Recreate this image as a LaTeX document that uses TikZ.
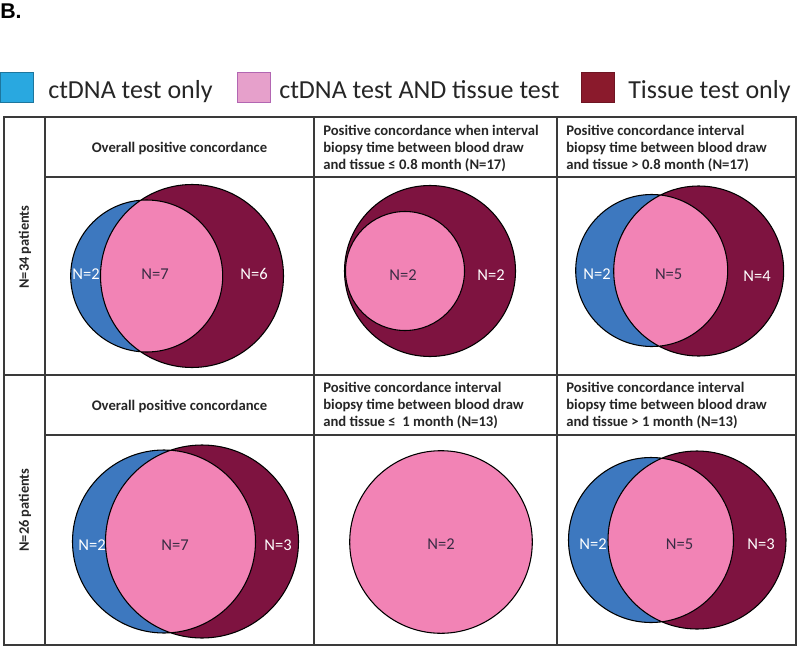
\documentclass[tikz,border=0pt]{standalone}
\usepackage{fontspec}
\setmainfont{Carlito}
\newfontfamily\labfont{Liberation Sans}
\usepackage{xcolor}
\usetikzlibrary{positioning}

\definecolor{legblue}{HTML}{29A8E0}
\definecolor{legpink}{HTML}{E6A0CB}
\definecolor{legmaroon}{HTML}{8A1A2C}
\definecolor{vblue}{HTML}{3D78BF}
\definecolor{vpink}{HTML}{F283B5}
\definecolor{vmaroon}{HTML}{7E1340}
\definecolor{ink}{HTML}{262626}
\definecolor{vink}{HTML}{3A2C44}
\definecolor{rule}{HTML}{3A3A3A}

\tikzset{
  gridline/.style={draw=rule, line width=1pt},
  ring/.style={draw=black, line width=0.8pt},
  head/.style={font=\fontsize{11}{12.75}\selectfont\bfseries, text=ink, inner sep=0pt, align=left},
  legbox/.style={minimum width=24.75pt, minimum height=22.5pt, inner sep=0pt, line width=0.6pt},
  legtext/.style={font=\fontsize{19.5}{22}\selectfont, text=ink, inner sep=0pt, anchor=base west},
  nlab/.style={font=\fontsize{12.4}{14}\selectfont, inner sep=0pt},
  rowlab/.style={font=\fontsize{10.8}{12}\selectfont\bfseries, text=ink, inner sep=0pt, rotate=90}
}

\begin{document}
\begin{tikzpicture}[x=0.75pt, y=-0.75pt]
    \useasboundingbox (0,0) rectangle (800,646);

    % panel letter
    \node[anchor=base west, inner sep=0pt, font=\labfont\fontsize{16}{18}\selectfont\bfseries] (panel) at (0,18) {B.};

    % legend
    \node[legbox, fill=legblue, draw=legblue!70!black] (kblue) at (16.5,87.7) {};
    \node[legbox, fill=legpink, draw=violet!60] (kpink) at (253.5,87.7) {};
    \node[legbox, fill=legmaroon, draw=legmaroon!80!black] (kmaroon) at (598,87.7) {};
    \node[legtext] (tblue) at (48,98.3) {ctDNA test only};
    \node[legtext] (tpink) at (279,98.3) {ctDNA test AND tissue test};
    \node[legtext] (tmaroon) at (628,98.3) {Tissue test only};

    % table
    \coordinate (A) at (4,117);
    \coordinate (B) at (796,645);
    \draw[gridline] (A) rectangle (B);
    \foreach \x in {45, 314, 557} {
        \draw[gridline] (\x,117) -- (\x,645);
    }
    \draw[gridline] (45,177) -- (796,177);
    \draw[gridline] (4,375) -- (796,375);
    \draw[gridline] (45,435) -- (796,435);

    % row labels
    \node[rowlab] (r1) at (25,247) {N=34 patients};
    \node[rowlab] (r2) at (25,510) {N=26 patients};

    % column headers
    \node[head] (h12) at (179.5,148) {Overall positive concordance};
    \node[head, anchor=west] (h13) at (323,148) {Positive concordance when interval\\biopsy time between blood draw\\and tissue ≤ 0.8 month (N=17)};
    \node[head, anchor=west] (h14) at (566,148) {Positive concordance interval\\biopsy time between blood draw\\and tissue > 0.8 month (N=17)};
    \node[head] (h22) at (179.5,406) {Overall positive concordance};
    \node[head, anchor=west] (h23) at (323,405) {Positive concordance interval\\biopsy time between blood draw\\and tissue ≤\ \ 1 month (N=13)};
    \node[head, anchor=west] (h24) at (566,405) {Positive concordance interval\\biopsy time between blood draw\\and tissue > 1 month (N=13)};

    % two-set venns: ctDNA circle, tissue circle
    \foreach \bx/\by/\br/\mx/\my/\mr in {
        146.7/276/76/192/276/91.5,
        651.7/270.5/76/698.7/271/85,
        164/541.5/91.5/202/541.5/96.5,
        651/540/82.5/697/540/89
    }{
        \fill[vblue] (\bx,\by) circle (\br);
        \fill[vmaroon] (\mx,\my) circle (\mr);
        \begin{scope}
            \clip (\bx,\by) circle (\br);
            \fill[vpink] (\mx,\my) circle (\mr);
        \end{scope}
        \draw[ring] (\bx,\by) circle (\br) (\mx,\my) circle (\mr);
    }

    % nested and single venns
    \draw[ring, fill=vmaroon] (430,271) circle (85.5);
    \draw[ring, fill=vpink] (405,271) circle (59.5);
    \draw[ring, fill=vpink] (441,542) circle (91.3);

    % counts
    \foreach \name/\x/\y/\col/\txt in {
        a1/86/274/white/N=2,
        a2/155/274/vink/N=7,
        a3/254/274/white/N=6,
        b1/403/275/vink/N=2,
        b2/491/275/white/N=2,
        c1/597/274/white/N=2,
        c2/668.7/274/vink/N=5,
        c3/757/276/white/N=4,
        d1/92/545/white/N=2,
        d2/175/545/vink/N=7,
        d3/278/545/white/N=3,
        e1/441/544/vink/N=2,
        f1/593/544/white/N=2,
        f2/679.5/544/vink/N=5,
        f3/761/544/white/N=3
    }{
        \node[nlab, text=\col] (\name) at (\x,\y) {\txt};
    }
\end{tikzpicture}
\end{document}
